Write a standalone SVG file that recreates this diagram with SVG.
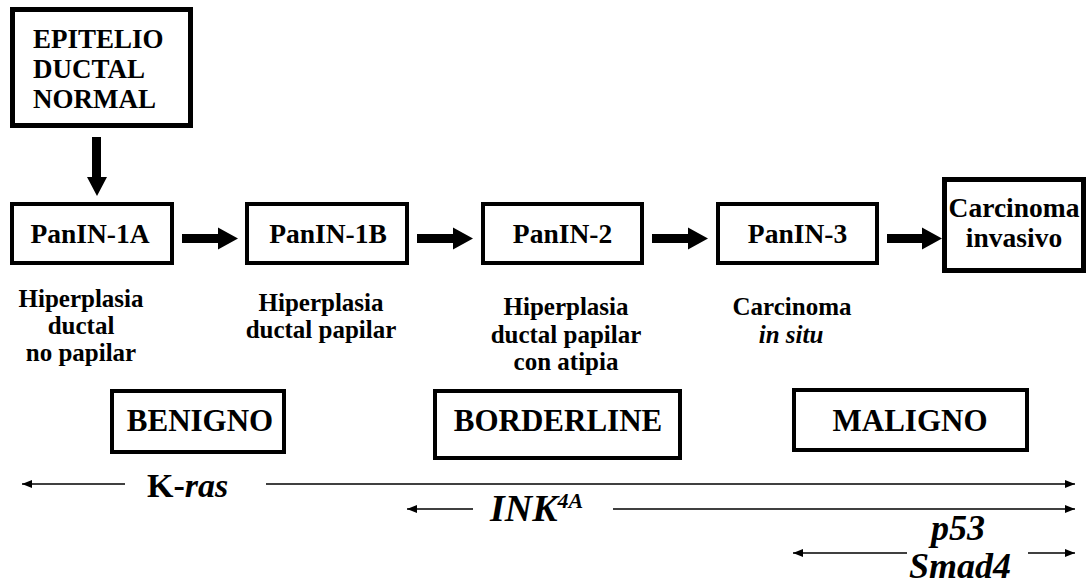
<svg xmlns="http://www.w3.org/2000/svg" width="1089" height="584" viewBox="0 0 1089 584">
<defs>
<marker id="ah" viewBox="0 0 10 8" refX="10" refY="4" markerWidth="10" markerHeight="8" markerUnits="userSpaceOnUse" orient="auto">
<path d="M0,0 L10,4 L0,8 Z" fill="#000"/>
</marker>
</defs>
<rect width="1089" height="584" fill="#fff"/>

<g id="epitelio">
<rect x="12.5" y="9.5" width="178" height="116" fill="#fff" stroke="#000" stroke-width="5"/>
<text x="33" y="48" style="font-family:'Liberation Serif',serif;font-weight:bold;font-size:27px">EPITELIO</text>
<text x="33" y="78" style="font-family:'Liberation Serif',serif;font-weight:bold;font-size:27px">DUCTAL</text>
<text x="33" y="108" style="font-family:'Liberation Serif',serif;font-weight:bold;font-size:27px">NORMAL</text>
</g>

<g id="panin1a">
<rect x="12" y="204" width="160" height="59" fill="#fff" stroke="#000" stroke-width="4"/>
<text x="90" y="243" text-anchor="middle" style="font-family:'Liberation Serif',serif;font-weight:bold;font-size:27.5px">PanIN-1A</text>
</g>
<g id="panin1b">
<rect x="247" y="204" width="160" height="59" fill="#fff" stroke="#000" stroke-width="4"/>
<text x="328" y="243" text-anchor="middle" style="font-family:'Liberation Serif',serif;font-weight:bold;font-size:27.5px">PanIN-1B</text>
</g>
<g id="panin2">
<rect x="483" y="204" width="159" height="59" fill="#fff" stroke="#000" stroke-width="4"/>
<text x="562.5" y="243" text-anchor="middle" style="font-family:'Liberation Serif',serif;font-weight:bold;font-size:27.5px">PanIN-2</text>
</g>
<g id="panin3">
<rect x="718" y="204" width="159" height="59" fill="#fff" stroke="#000" stroke-width="4"/>
<text x="797.5" y="243" text-anchor="middle" style="font-family:'Liberation Serif',serif;font-weight:bold;font-size:27.5px">PanIN-3</text>
</g>
<g id="carcinoma-invasivo">
<rect x="944.5" y="179.5" width="139" height="91" fill="#fff" stroke="#000" stroke-width="5"/>
<text x="1014" y="217" text-anchor="middle" style="font-family:'Liberation Serif',serif;font-weight:bold;font-size:27.5px">Carcinoma</text>
<text x="1014" y="247" text-anchor="middle" style="font-family:'Liberation Serif',serif;font-weight:bold;font-size:27.5px">invasivo</text>
</g>

<g id="caption1">
<text x="81" y="307" text-anchor="middle" style="font-family:'Liberation Serif',serif;font-weight:bold;font-size:25px">Hiperplasia</text>
<text x="81" y="334" text-anchor="middle" style="font-family:'Liberation Serif',serif;font-weight:bold;font-size:25px">ductal</text>
<text x="81" y="361" text-anchor="middle" style="font-family:'Liberation Serif',serif;font-weight:bold;font-size:25px">no papilar</text>
</g>
<g id="caption2">
<text x="321" y="311" text-anchor="middle" style="font-family:'Liberation Serif',serif;font-weight:bold;font-size:25px">Hiperplasia</text>
<text x="321" y="338" text-anchor="middle" style="font-family:'Liberation Serif',serif;font-weight:bold;font-size:25px">ductal papilar</text>
</g>
<g id="caption3">
<text x="566" y="315" text-anchor="middle" style="font-family:'Liberation Serif',serif;font-weight:bold;font-size:25px">Hiperplasia</text>
<text x="566" y="343" text-anchor="middle" style="font-family:'Liberation Serif',serif;font-weight:bold;font-size:25px">ductal papilar</text>
<text x="566" y="370" text-anchor="middle" style="font-family:'Liberation Serif',serif;font-weight:bold;font-size:25px">con atipia</text>
</g>
<g id="caption4">
<text x="792" y="315" text-anchor="middle" style="font-family:'Liberation Serif',serif;font-weight:bold;font-size:25px">Carcinoma</text>
<text x="791" y="343" text-anchor="middle" style="font-family:'Liberation Serif',serif;font-weight:bold;font-style:italic;font-size:25px">in situ</text>
</g>

<g id="benigno">
<rect x="112" y="391" width="172" height="61" fill="#fff" stroke="#000" stroke-width="4"/>
<text x="200" y="431" text-anchor="middle" style="font-family:'Liberation Serif',serif;font-weight:bold;font-size:31px">BENIGNO</text>
</g>
<g id="borderline">
<rect x="435" y="391" width="245" height="67" fill="#fff" stroke="#000" stroke-width="4"/>
<text x="558" y="431" text-anchor="middle" style="font-family:'Liberation Serif',serif;font-weight:bold;font-size:31px">BORDERLINE</text>
</g>
<g id="maligno">
<rect x="794" y="390" width="233" height="60" fill="#fff" stroke="#000" stroke-width="4"/>
<text x="910" y="431" text-anchor="middle" style="font-family:'Liberation Serif',serif;font-weight:bold;font-size:31px">MALIGNO</text>
</g>

<g id="genes">
<text x="147" y="497" style="font-family:'Liberation Serif',serif;font-weight:bold;font-size:34px">K-<tspan style="font-style:italic">ras</tspan></text>
<text x="490" y="521" style="font-family:'Liberation Serif',serif;font-weight:bold;font-style:italic;font-size:38px">INK<tspan dy="-13" style="font-size:22px">4A</tspan></text>
<text x="958" y="540" text-anchor="middle" style="font-family:'Liberation Serif',serif;font-weight:bold;font-style:italic;font-size:36px">p53</text>
<text x="960" y="578" text-anchor="middle" style="font-family:'Liberation Serif',serif;font-weight:bold;font-style:italic;font-size:36px">Smad4</text>
</g>

<g id="connectors" fill="#000">
<polygon points="92,137 101,137 101,177 107,177 97,196 87,177 92,177"/>
<polygon points="182,234 218,234 218,227.5 238,238.5 218,249.5 218,243 182,243"/>
<polygon points="417,234 453,234 453,227.5 473,238.5 453,249.5 453,243 417,243"/>
<polygon points="652,234 688,234 688,227.5 708,238.5 688,249.5 688,243 652,243"/>
<polygon points="887,234 922,234 922,227.5 942,238.5 922,249.5 922,243 887,243"/>
<g stroke="#000" stroke-width="1.4" fill="none" marker-end="url(#ah)">
<line x1="125" y1="484" x2="22" y2="484"/>
<line x1="266" y1="484" x2="1075" y2="484"/>
<line x1="473" y1="509" x2="407" y2="509"/>
<line x1="613" y1="509" x2="1075" y2="509"/>
<line x1="907" y1="553" x2="793" y2="553"/>
<line x1="1028" y1="553" x2="1075" y2="553"/>
</g>
</g>
</svg>
